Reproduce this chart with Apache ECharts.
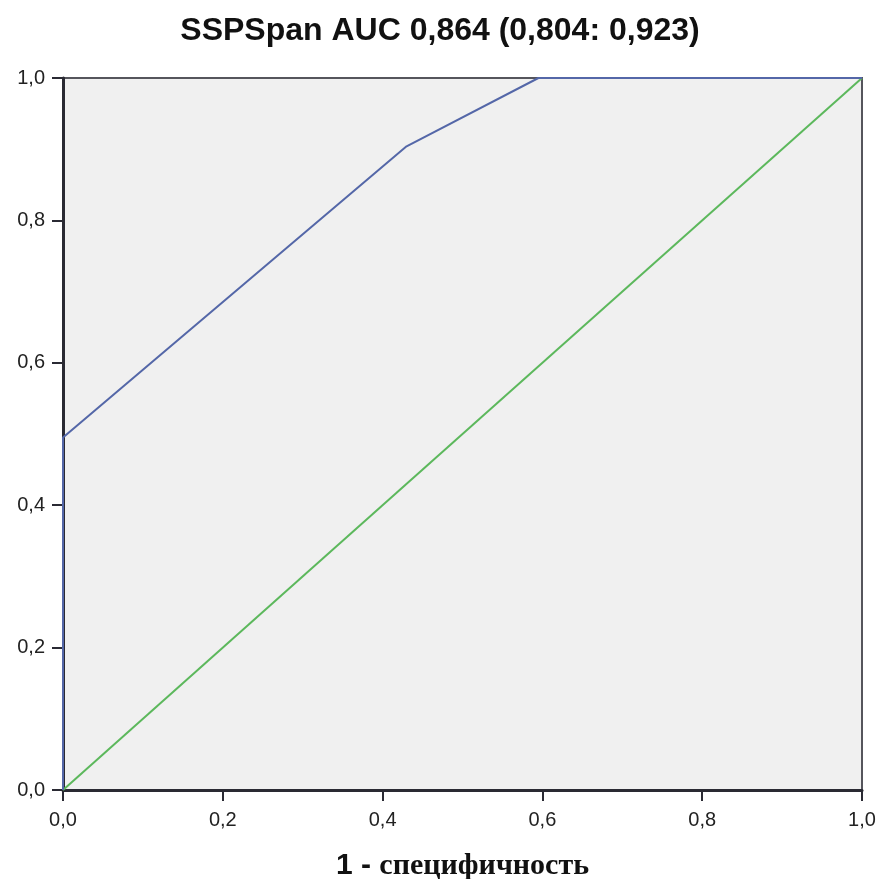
<!DOCTYPE html>
<html><head><meta charset="utf-8">
<script src="https://cdn.jsdelivr.net/npm/echarts@6/dist/echarts.min.js"></script>
<style>html,body{margin:0;padding:0;background:#fff}#c{width:880px;height:879px}</style>
</head><body><div id="c"></div>
<script>
const titleText = 'SSPSpan AUC 0,864 (0,804: 0,923)';
const xTitle = '1 - специфичность';
const rocX = [0, 0, 0.43, 0.595, 1];
const rocY = [0, 0.495, 0.904, 1, 1];
const refX = [0, 1];
const refY = [0, 1];
const fmt = v => v.toFixed(1).replace('.', ',');
const chart = echarts.init(document.getElementById('c'));
chart.setOption({
  animation: false,
  title: { text: titleText, left: 'center', top: 10, textStyle: { fontFamily: 'Liberation Sans, Arial', fontSize: 32, fontWeight: 'bold', color: '#111' } },
  grid: { left: 63, right: 18, top: 78, bottom: 89, outerBoundsMode: 'none', containLabel: false, show: true, backgroundColor: '#f0f0f0', borderColor: '#55555c', borderWidth: 2 },
  xAxis: {
    type: 'value', min: 0, max: 1, interval: 0.2,
    axisLine: { show: true, lineStyle: { color: '#2a2a33', width: 3 } },
    axisTick: { show: true, length: 11, lineStyle: { color: '#2a2a33', width: 2 } },
    splitLine: { show: false },
    axisLabel: { formatter: fmt, fontFamily: 'Liberation Sans, Arial', fontSize: 20, color: '#222', margin: 20 },
    name: '{a|1 - }{b|специфичность}', nameLocation: 'middle', nameGap: 61,
    nameTextStyle: { rich: { a: { fontFamily: 'Liberation Sans, Arial', fontSize: 30, fontWeight: 'bold', color: '#111' }, b: { fontFamily: 'Liberation Serif, Times New Roman', fontSize: 30, fontWeight: 'bold', color: '#111' } } }
  },
  yAxis: {
    type: 'value', min: 0, max: 1, interval: 0.2,
    axisLine: { show: true, lineStyle: { color: '#2a2a33', width: 3 } },
    axisTick: { show: true, length: 11, lineStyle: { color: '#2a2a33', width: 2 } },
    splitLine: { show: false },
    axisLabel: { formatter: fmt, fontFamily: 'Liberation Sans, Arial', fontSize: 20, color: '#222', margin: 18 }
  },
  series: [
    { type: 'line', data: refX.map((x, i) => [x, refY[i]]), symbol: 'none', lineStyle: { color: '#5cb85c', width: 2 }, z: 2 },
    { type: 'line', data: rocX.map((x, i) => [x, rocY[i]]), symbol: 'none', lineStyle: { color: '#5467a8', width: 2 }, z: 3 }
  ]
});
</script></body></html>
